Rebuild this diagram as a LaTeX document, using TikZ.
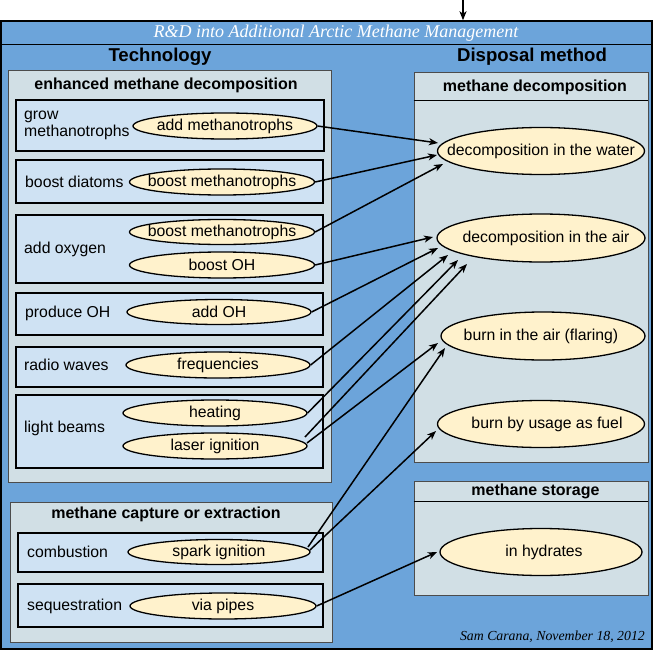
\documentclass[tikz,border=0pt]{standalone}
\usepackage{fontspec}
\setmainfont{Liberation Sans}
\newfontfamily\titleserif{Liberation Serif}
\usetikzlibrary{arrows.meta,calc,shapes.geometric}
\definecolor{bgblue}{RGB}{108,164,218}
\definecolor{panelgrey}{RGB}{209,223,229}
\definecolor{innerblue}{RGB}{207,226,243}
\definecolor{ovalyellow}{RGB}{255,242,204}
\newcommand\txtfont{\fontsize{15.8}{17}\selectfont}
\newcommand\hdfont{\fontsize{18.6}{20}\selectfont\bfseries}
\newcommand\ptfont{\fontsize{16}{18}\selectfont\bfseries}
\begin{document}
\begin{tikzpicture}[x=1pt,y=-1pt,
  outerbox/.style={draw=black, line width=1.5pt, fill=bgblue, inner sep=0pt},
  panel/.style={draw=black!70, line width=0.9pt, fill=panelgrey, inner sep=0pt},
  ibox/.style={draw=black, line width=1.6pt, fill=innerblue, inner sep=0pt},
  oval/.style={ellipse, draw=black, line width=1.3pt, fill=ovalyellow, inner sep=0pt, font=\txtfont},
  lbl/.style={anchor=west, inner sep=0pt, font=\txtfont, align=left},
  hd/.style={inner sep=0pt, font=\hdfont},
  pt/.style={inner sep=0pt, font=\ptfont},
  arr/.style={-{Stealth[length=9pt,width=7pt,inset=2.5pt]}, line width=1.5pt, black},
  sep/.style={draw=black, line width=0.9pt}
]
\useasboundingbox (0,0) rectangle (653,650);

% outer frame
\node[outerbox, minimum width=651pt, minimum height=628pt] (outer) at (326.5,335) {};
\draw[sep, line width=1.2pt] ($(outer.north west)+(0,24)$) -- ($(outer.north east)+(0,24)$);
\node[inner sep=0pt, text=white, font=\titleserif\itshape\fontsize{18}{20}\selectfont] (title) at (336,33) {R\&D into Additional Arctic Methane Management};
\coordinate (topc) at (463,0);
\draw[arr] (topc) -- (topc |- outer.north);

% headers
\node[hd] (htech) at (160,57) {Technology};
\node[hd] (hdisp) at (532,57) {Disposal method};

% left panels
\node[panel, minimum width=323pt, minimum height=412pt] (enh) at (169.5,276) {};
\node[pt] (enhT) at (166,85) {enhanced methane decomposition};
\node[panel, minimum width=322pt, minimum height=140pt] (cap) at (171,572) {};
\node[pt] (capT) at (166,514) {methane capture or extraction};

% inner boxes
\node[ibox, minimum width=308pt, minimum height=51pt] (b1) at (170,125.5) {};
\node[ibox, minimum width=307pt, minimum height=43pt] (b2) at (169.5,181.5) {};
\node[ibox, minimum width=307pt, minimum height=68pt] (b3) at (169.5,249) {};
\node[ibox, minimum width=307pt, minimum height=42pt] (b4) at (169.5,314) {};
\node[ibox, minimum width=307pt, minimum height=40pt] (b5) at (169.5,367) {};
\node[ibox, minimum width=307pt, minimum height=73pt] (b6) at (169.5,431.5) {};
\node[ibox, minimum width=305pt, minimum height=39pt] (b7) at (170.5,552.5) {};
\node[ibox, minimum width=305pt, minimum height=43pt] (b8) at (170.5,605.5) {};

\node[lbl] (l1) at (24,125.5) {grow\\methanotrophs};
\node[lbl] (l2) at (25,182) {boost diatoms};
\node[lbl] (l3) at (24,249) {add oxygen};
\node[lbl] (l4) at (25,313) {produce OH};
\node[lbl] (l5) at (24,365) {radio waves};
\node[lbl] (l6) at (24,428) {light beams};
\node[lbl] (l7) at (27,552) {combustion};
\node[lbl] (l8) at (27,606) {sequestration};

% left ellipses
\node[oval, minimum width=184pt, minimum height=26pt] (e1) at (225,126) {\makebox[0pt]{add methanotrophs}};
\node[oval, minimum width=185pt, minimum height=26pt] (e2) at (222,182) {\makebox[0pt]{boost methanotrophs}};
\node[oval, minimum width=185pt, minimum height=25pt] (e3) at (222,232) {\makebox[0pt]{boost methanotrophs}};
\node[oval, minimum width=185pt, minimum height=26pt] (e4) at (222,265) {\makebox[0pt]{boost OH}};
\node[oval, minimum width=184pt, minimum height=25pt] (e5) at (219,312) {\makebox[0pt]{add OH}};
\node[oval, minimum width=184pt, minimum height=26pt] (e6) at (218,365) {\makebox[0pt]{frequencies}};
\node[oval, minimum width=184pt, minimum height=26pt] (e7) at (215,413) {\makebox[0pt]{heating}};
\node[oval, minimum width=184pt, minimum height=26pt] (e8) at (215,446) {\makebox[0pt]{laser ignition}};
\node[oval, minimum width=182pt, minimum height=25pt] (e9) at (219,552) {\makebox[0pt]{spark ignition}};
\node[oval, minimum width=186pt, minimum height=26pt] (e10) at (223,606) {\makebox[0pt]{via pipes}};

% right panels
\node[panel, minimum width=234pt, minimum height=390pt] (dec) at (531,267) {};
\draw[sep] ($(dec.north west)+(0,29)$) -- ($(dec.north east)+(0,29)$);
\node[pt] (decT) at (535,87) {methane decomposition};
\node[panel, minimum width=234pt, minimum height=114pt] (sto) at (531,538) {};
\draw[sep] ($(sto.north west)+(0,21)$) -- ($(sto.north east)+(0,21)$);
\node[pt] (stoT) at (535.5,491) {methane storage};

% right ellipses
\node[oval, minimum width=207pt, minimum height=47pt] (water) at (541,151) {\makebox[0pt]{decomposition in the water}};
\node[oval, minimum width=208pt, minimum height=48pt] (air) at (541,238) {\makebox[0pt]{\hspace{10pt}decomposition in the air}};
\node[oval, minimum width=204pt, minimum height=48pt] (flare) at (543,336) {\makebox[0pt]{\hspace{-4pt}burn in the air (flaring)}};
\node[oval, minimum width=207pt, minimum height=47pt] (fuel) at (541,424) {\makebox[0pt]{\hspace{12pt}burn by usage as fuel}};
\node[oval, minimum width=202pt, minimum height=47pt] (hyd) at (541,552) {\makebox[0pt]{\hspace{6pt}in hydrates}};

% connectors
\draw[arr] (e1.east) -- ($(water.center)+(-103,-8)$);
\draw[arr] (e2.east) -- ($(water.center)+(-104,4)$);
\draw[arr] (e3.east) -- ($(water.center)+(-98,13)$);
\draw[arr] (e4.east) -- ($(air.center)+(-108,-1)$);
\draw[arr] (e5.east) -- ($(air.center)+(-103,10)$);
\draw[arr] (e6.east) -- ($(air.center)+(-93,17)$);
\draw[arr] (e7.east) -- ($(air.center)+(-83,22)$);
\draw[arr] ($(e8.center)+(90,-9)$) -- ($(air.center)+(-74,26)$);
\draw[arr] ($(e8.center)+(92,-3)$) -- ($(flare.center)+(-105,7)$);
\draw[arr] ($(e9.center)+(89,-5)$) -- ($(flare.center)+(-98,12)$);
\draw[arr] ($(e9.center)+(91,-2)$) -- ($(fuel.center)+(-105,7)$);
\draw[arr] (e10.east) -- ($(hyd.center)+(-104,0)$);

% footer
\node[inner sep=0pt, anchor=east, font=\titleserif\itshape\fontsize{13.8}{15}\selectfont] (foot) at (645,637) {Sam Carana, November 18, 2012};
\end{tikzpicture}
\end{document}
